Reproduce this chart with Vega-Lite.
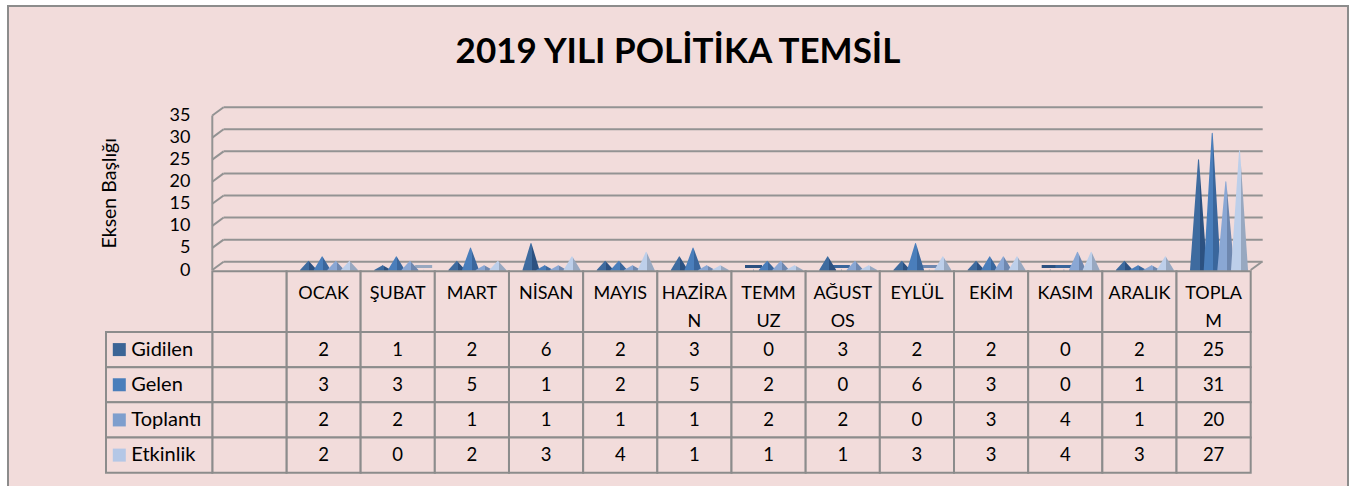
{
  "$schema": "https://vega.github.io/schema/vega-lite/v6.json",
  "width": 1340,
  "height": 484,
  "autosize": "none",
  "padding": {"left": 8, "top": 6, "right": 8, "bottom": -4},
  "background": "#ffffff",
  "view": {"fill": "#F2DCDB", "stroke": "#8C8C8C", "strokeWidth": 2},
  "config": {"font": "Lato"},
  "title": {"text": "2019 YILI POLİTİKA TEMSİL", "fontSize": 35, "fontWeight": "bold", "font": "Lato", "color": "#000000", "anchor": "middle", "baseline": "alphabetic", "offset": -91.5},
  "datasets": {
    "veri": [
      {"ay": "OCAK", "seri": "Gidilen", "deger": 2}, {"ay": "ŞUBAT", "seri": "Gidilen", "deger": 1}, {"ay": "MART", "seri": "Gidilen", "deger": 2}, {"ay": "NİSAN", "seri": "Gidilen", "deger": 6}, {"ay": "MAYIS", "seri": "Gidilen", "deger": 2}, {"ay": "HAZİRAN", "seri": "Gidilen", "deger": 3}, {"ay": "TEMMUZ", "seri": "Gidilen", "deger": 0}, {"ay": "AĞUSTOS", "seri": "Gidilen", "deger": 3}, {"ay": "EYLÜL", "seri": "Gidilen", "deger": 2}, {"ay": "EKİM", "seri": "Gidilen", "deger": 2}, {"ay": "KASIM", "seri": "Gidilen", "deger": 0}, {"ay": "ARALIK", "seri": "Gidilen", "deger": 2}, {"ay": "TOPLAM", "seri": "Gidilen", "deger": 25},
      {"ay": "OCAK", "seri": "Gelen", "deger": 3}, {"ay": "ŞUBAT", "seri": "Gelen", "deger": 3}, {"ay": "MART", "seri": "Gelen", "deger": 5}, {"ay": "NİSAN", "seri": "Gelen", "deger": 1}, {"ay": "MAYIS", "seri": "Gelen", "deger": 2}, {"ay": "HAZİRAN", "seri": "Gelen", "deger": 5}, {"ay": "TEMMUZ", "seri": "Gelen", "deger": 2}, {"ay": "AĞUSTOS", "seri": "Gelen", "deger": 0}, {"ay": "EYLÜL", "seri": "Gelen", "deger": 6}, {"ay": "EKİM", "seri": "Gelen", "deger": 3}, {"ay": "KASIM", "seri": "Gelen", "deger": 0}, {"ay": "ARALIK", "seri": "Gelen", "deger": 1}, {"ay": "TOPLAM", "seri": "Gelen", "deger": 31},
      {"ay": "OCAK", "seri": "Toplantı", "deger": 2}, {"ay": "ŞUBAT", "seri": "Toplantı", "deger": 2}, {"ay": "MART", "seri": "Toplantı", "deger": 1}, {"ay": "NİSAN", "seri": "Toplantı", "deger": 1}, {"ay": "MAYIS", "seri": "Toplantı", "deger": 1}, {"ay": "HAZİRAN", "seri": "Toplantı", "deger": 1}, {"ay": "TEMMUZ", "seri": "Toplantı", "deger": 2}, {"ay": "AĞUSTOS", "seri": "Toplantı", "deger": 2}, {"ay": "EYLÜL", "seri": "Toplantı", "deger": 0}, {"ay": "EKİM", "seri": "Toplantı", "deger": 3}, {"ay": "KASIM", "seri": "Toplantı", "deger": 4}, {"ay": "ARALIK", "seri": "Toplantı", "deger": 1}, {"ay": "TOPLAM", "seri": "Toplantı", "deger": 20},
      {"ay": "OCAK", "seri": "Etkinlik", "deger": 2}, {"ay": "ŞUBAT", "seri": "Etkinlik", "deger": 0}, {"ay": "MART", "seri": "Etkinlik", "deger": 2}, {"ay": "NİSAN", "seri": "Etkinlik", "deger": 3}, {"ay": "MAYIS", "seri": "Etkinlik", "deger": 4}, {"ay": "HAZİRAN", "seri": "Etkinlik", "deger": 1}, {"ay": "TEMMUZ", "seri": "Etkinlik", "deger": 1}, {"ay": "AĞUSTOS", "seri": "Etkinlik", "deger": 1}, {"ay": "EYLÜL", "seri": "Etkinlik", "deger": 3}, {"ay": "EKİM", "seri": "Etkinlik", "deger": 3}, {"ay": "KASIM", "seri": "Etkinlik", "deger": 4}, {"ay": "ARALIK", "seri": "Etkinlik", "deger": 3}, {"ay": "TOPLAM", "seri": "Etkinlik", "deger": 27}
    ],
    "izgara": [{"t": 0}, {"t": 5}, {"t": 10}, {"t": 15}, {"t": 20}, {"t": 25}, {"t": 30}, {"t": 35}]
  },
  "resolve": {"scale": {"y": "independent"}},
  "layer": [
    {
      "data": {"name": "izgara"},
      "mark": {"type": "rule", "color": "#939393", "strokeWidth": 2, "xOffset": 11.3, "x2Offset": 12, "yOffset": -8.3},
      "encoding": {
        "x": {"datum": " ", "type": "nominal", "bandPosition": 0, "scale": {"domain": [" ", "OCAK", "ŞUBAT", "MART", "NİSAN", "MAYIS", "HAZİRAN", "TEMMUZ", "AĞUSTOS", "EYLÜL", "EKİM", "KASIM", "ARALIK", "TOPLAM"], "range": [204.3, 1242.7], "paddingInner": 0, "paddingOuter": 0}, "axis": {"orient": "bottom", "offset": -191.3, "domain": false, "ticks": false, "grid": false, "labelPadding": 0, "labelBaseline": "alphabetic", "labelFont": "Lato", "labelFontSize": 18, "labelColor": "#000000", "labelLineHeight": 28.3, "labelAngle": 0, "labelExpr": "datum.value == 'HAZİRAN' ? ['HAZİRA', 'N'] : datum.value == 'TEMMUZ' ? ['TEMM', 'UZ'] : datum.value == 'AĞUSTOS' ? ['AĞUST', 'OS'] : datum.value == 'TOPLAM' ? ['TOPLA', 'M'] : datum.value", "title": null, "zindex": 3}},
        "x2": {"datum": "TOPLAM", "bandPosition": 1},
        "y": {"field": "t", "type": "quantitative", "scale": {"domain": [0, 35], "range": [264, 109.5], "nice": false}, "axis": {"values": [0, 5, 10, 15, 20, 25, 30, 35], "orient": "left", "offset": -182, "domain": false, "ticks": false, "grid": false, "labelPadding": 0, "labelFontSize": 18, "labelColor": "#000000", "labelFont": "Lato", "labelOverlap": false, "labelFlush": false, "labelBaseline": "middle", "title": "Eksen Başlığı", "titleFont": "Lato", "titleFontSize": 19.5, "titleFontWeight": "normal", "titleColor": "#000000", "titlePadding": 50, "zindex": 3}}
      }
    },
    {
      "data": {"name": "izgara"},
      "mark": {"type": "rule", "color": "#939393", "strokeWidth": 2, "x2Offset": 11.3, "y2Offset": -8.3},
      "encoding": {
        "x": {"datum": " ", "type": "nominal", "bandPosition": 0},
        "x2": {"datum": " ", "bandPosition": 0},
        "y": {"field": "t", "type": "quantitative", "scale": {"domain": [0, 35], "range": [264, 109.5], "nice": false}, "axis": null},
        "y2": {"field": "t"}
      }
    },
    {
      "data": {"values": [{}]},
      "mark": {"type": "rule", "color": "#939393", "strokeWidth": 2},
      "encoding": {
        "x": {"datum": " ", "type": "nominal", "bandPosition": 0},
        "y": {"datum": 0, "type": "quantitative", "scale": {"domain": [0, 35], "range": [264, 109.5], "nice": false}, "axis": null},
        "y2": {"datum": 35}
      }
    },
    {
      "data": {"values": [{}]},
      "mark": {"type": "rule", "color": "#939393", "strokeWidth": 2, "x2Offset": 11.3, "y2Offset": -8.3},
      "encoding": {
        "x": {"datum": "TOPLAM", "type": "nominal", "bandPosition": 1},
        "x2": {"datum": "TOPLAM", "bandPosition": 1},
        "y": {"datum": 0, "type": "quantitative", "scale": {"domain": [0, 35], "range": [264, 109.5], "nice": false}, "axis": null},
        "y2": {"datum": 0}
      }
    },
    {
      "data": {"name": "veri"},
      "transform": [{"filter": "datum.seri == 'Gidilen' && datum.deger == 0"}],
      "mark": {"type": "rule", "color": "#2C5181", "strokeWidth": 3, "xOffset": 13.5, "x2Offset": 30.5, "yOffset": -3.5},
      "encoding": {
        "x": {"field": "ay", "type": "nominal", "bandPosition": 0},
        "x2": {"field": "ay", "bandPosition": 0},
        "y": {"datum": 0, "type": "quantitative", "scale": {"domain": [0, 35], "range": [264, 109.5], "nice": false}, "axis": null}
      }
    },
    {
      "data": {"name": "veri"},
      "transform": [{"filter": "datum.seri == 'Gelen' && datum.deger == 0"}],
      "mark": {"type": "rule", "color": "#3A669C", "strokeWidth": 3, "xOffset": 27.2, "x2Offset": 44.2, "yOffset": -3.5},
      "encoding": {
        "x": {"field": "ay", "type": "nominal", "bandPosition": 0},
        "x2": {"field": "ay", "bandPosition": 0},
        "y": {"datum": 0, "type": "quantitative", "scale": {"domain": [0, 35], "range": [264, 109.5], "nice": false}, "axis": null}
      }
    },
    {
      "data": {"name": "veri"},
      "transform": [{"filter": "datum.seri == 'Toplantı' && datum.deger == 0"}],
      "mark": {"type": "rule", "color": "#6E87AF", "strokeWidth": 3, "xOffset": 40.8, "x2Offset": 57.8, "yOffset": -3.5},
      "encoding": {
        "x": {"field": "ay", "type": "nominal", "bandPosition": 0},
        "x2": {"field": "ay", "bandPosition": 0},
        "y": {"datum": 0, "type": "quantitative", "scale": {"domain": [0, 35], "range": [264, 109.5], "nice": false}, "axis": null}
      }
    },
    {
      "data": {"name": "veri"},
      "transform": [{"filter": "datum.seri == 'Etkinlik' && datum.deger == 0"}],
      "mark": {"type": "rule", "color": "#98A8C0", "strokeWidth": 3, "xOffset": 54.5, "x2Offset": 71.5, "yOffset": -3.5},
      "encoding": {
        "x": {"field": "ay", "type": "nominal", "bandPosition": 0},
        "x2": {"field": "ay", "bandPosition": 0},
        "y": {"datum": 0, "type": "quantitative", "scale": {"domain": [0, 35], "range": [264, 109.5], "nice": false}, "axis": null}
      }
    },
    {
      "data": {"name": "veri"},
      "transform": [
        {"filter": "datum.seri == 'Gidilen'"},
        {"stack": "deger", "groupby": ["ay", "seri"], "as": ["taban", "tepe"]},
        {"fold": ["taban", "tepe"], "as": ["uc", "yukseklik"]}
      ],
      "mark": {"type": "trail", "xOffset": 22, "fill": {"gradient": "linear", "x1": 0, "y1": 0, "x2": 1, "y2": 0, "stops": [{"offset": 0, "color": "#3E6B9F"}, {"offset": 0.56, "color": "#3E6B9F"}, {"offset": 0.56, "color": "#2C5181"}, {"offset": 1, "color": "#2C5181"}]}},
      "encoding": {
        "x": {"field": "ay", "type": "nominal", "bandPosition": 0},
        "y": {"field": "yukseklik", "type": "quantitative", "scale": {"domain": [0, 35], "range": [264, 109.5], "nice": false}, "axis": null},
        "size": {"condition": {"test": "datum.uc == 'taban'", "value": 17}, "value": 0},
        "detail": {"field": "ay"},
        "order": {"field": "uc"}
      }
    },
    {
      "data": {"name": "veri"},
      "transform": [
        {"filter": "datum.seri == 'Gelen'"},
        {"stack": "deger", "groupby": ["ay", "seri"], "as": ["taban", "tepe"]},
        {"fold": ["taban", "tepe"], "as": ["uc", "yukseklik"]}
      ],
      "mark": {"type": "trail", "xOffset": 35.7, "fill": {"gradient": "linear", "x1": 0, "y1": 0, "x2": 1, "y2": 0, "stops": [{"offset": 0, "color": "#4A7EBB"}, {"offset": 0.56, "color": "#4A7EBB"}, {"offset": 0.56, "color": "#3A669C"}, {"offset": 1, "color": "#3A669C"}]}},
      "encoding": {
        "x": {"field": "ay", "type": "nominal", "bandPosition": 0},
        "y": {"field": "yukseklik", "type": "quantitative", "scale": {"domain": [0, 35], "range": [264, 109.5], "nice": false}, "axis": null},
        "size": {"condition": {"test": "datum.uc == 'taban'", "value": 17}, "value": 0},
        "detail": {"field": "ay"},
        "order": {"field": "uc"}
      }
    },
    {
      "data": {"name": "veri"},
      "transform": [
        {"filter": "datum.seri == 'Toplantı'"},
        {"stack": "deger", "groupby": ["ay", "seri"], "as": ["taban", "tepe"]},
        {"fold": ["taban", "tepe"], "as": ["uc", "yukseklik"]}
      ],
      "mark": {"type": "trail", "xOffset": 49.3, "fill": {"gradient": "linear", "x1": 0, "y1": 0, "x2": 1, "y2": 0, "stops": [{"offset": 0, "color": "#8AA7D4"}, {"offset": 0.56, "color": "#8AA7D4"}, {"offset": 0.56, "color": "#6E87AF"}, {"offset": 1, "color": "#6E87AF"}]}},
      "encoding": {
        "x": {"field": "ay", "type": "nominal", "bandPosition": 0},
        "y": {"field": "yukseklik", "type": "quantitative", "scale": {"domain": [0, 35], "range": [264, 109.5], "nice": false}, "axis": null},
        "size": {"condition": {"test": "datum.uc == 'taban'", "value": 17}, "value": 0},
        "detail": {"field": "ay"},
        "order": {"field": "uc"}
      }
    },
    {
      "data": {"name": "veri"},
      "transform": [
        {"filter": "datum.seri == 'Etkinlik'"},
        {"stack": "deger", "groupby": ["ay", "seri"], "as": ["taban", "tepe"]},
        {"fold": ["taban", "tepe"], "as": ["uc", "yukseklik"]}
      ],
      "mark": {"type": "trail", "xOffset": 63, "fill": {"gradient": "linear", "x1": 0, "y1": 0, "x2": 1, "y2": 0, "stops": [{"offset": 0, "color": "#BDCFEA"}, {"offset": 0.56, "color": "#BDCFEA"}, {"offset": 0.56, "color": "#98A8C0"}, {"offset": 1, "color": "#98A8C0"}]}},
      "encoding": {
        "x": {"field": "ay", "type": "nominal", "bandPosition": 0},
        "y": {"field": "yukseklik", "type": "quantitative", "scale": {"domain": [0, 35], "range": [264, 109.5], "nice": false}, "axis": null},
        "size": {"condition": {"test": "datum.uc == 'taban'", "value": 17}, "value": 0},
        "detail": {"field": "ay"},
        "order": {"field": "uc"}
      }
    },
    {
      "data": {"name": "veri"},
      "transform": [{"aggregate": [], "groupby": ["ay"]}],
      "mark": {"type": "rect", "fill": "#F2DCDB", "stroke": "#8C8C8C", "strokeWidth": 2, "yOffset": -60.7},
      "encoding": {
        "x": {"field": "ay", "type": "nominal"},
        "y": {"datum": "Gidilen", "type": "nominal", "bandPosition": 0, "scale": {"domain": ["Gidilen", "Gelen", "Toplantı", "Etkinlik"], "range": [326, 466.7], "paddingInner": 0, "paddingOuter": 0}, "axis": null},
        "y2": {"datum": "Gidilen", "bandPosition": 0}
      }
    },
    {
      "data": {"values": [{}]},
      "mark": {"type": "rect", "fill": "#F2DCDB", "stroke": "#8C8C8C", "strokeWidth": 2, "yOffset": -60.7},
      "encoding": {
        "x": {"datum": " ", "type": "nominal"},
        "y": {"datum": "Gidilen", "type": "nominal", "bandPosition": 0, "scale": {"domain": ["Gidilen", "Gelen", "Toplantı", "Etkinlik"], "range": [326, 466.7], "paddingInner": 0, "paddingOuter": 0}, "axis": null},
        "y2": {"datum": "Gidilen", "bandPosition": 0}
      }
    },
    {
      "data": {"name": "veri"},
      "mark": {"type": "rect", "fill": "#F2DCDB", "stroke": "#8C8C8C", "strokeWidth": 2},
      "encoding": {
        "x": {"field": "ay", "type": "nominal"},
        "y": {"field": "seri", "type": "nominal", "scale": {"domain": ["Gidilen", "Gelen", "Toplantı", "Etkinlik"], "range": [326, 466.7], "paddingInner": 0, "paddingOuter": 0}, "axis": null}
      }
    },
    {
      "data": {"name": "veri"},
      "transform": [{"aggregate": [], "groupby": ["seri"]}],
      "mark": {"type": "rect", "fill": "#F2DCDB", "stroke": "#8C8C8C", "strokeWidth": 2},
      "encoding": {
        "x": {"datum": " ", "type": "nominal"},
        "y": {"field": "seri", "type": "nominal", "scale": {"domain": ["Gidilen", "Gelen", "Toplantı", "Etkinlik"], "range": [326, 466.7], "paddingInner": 0, "paddingOuter": 0}, "axis": null}
      }
    },
    {
      "data": {"name": "veri"},
      "transform": [{"aggregate": [], "groupby": ["seri"]}],
      "mark": {"type": "rect", "fill": "#F2DCDB", "stroke": "#8C8C8C", "strokeWidth": 2, "xOffset": -106.3},
      "encoding": {
        "x": {"datum": " ", "type": "nominal", "bandPosition": 0},
        "x2": {"datum": " ", "bandPosition": 0},
        "y": {"field": "seri", "type": "nominal", "scale": {"domain": ["Gidilen", "Gelen", "Toplantı", "Etkinlik"], "range": [326, 466.7], "paddingInner": 0, "paddingOuter": 0}, "axis": null}
      }
    },
    {
      "data": {"name": "veri"},
      "transform": [{"aggregate": [], "groupby": ["seri"]}],
      "mark": {"type": "point", "shape": "square", "filled": true, "opacity": 1, "size": 169, "xOffset": -93},
      "encoding": {
        "x": {"datum": " ", "type": "nominal", "bandPosition": 0},
        "y": {"field": "seri", "type": "nominal", "scale": {"domain": ["Gidilen", "Gelen", "Toplantı", "Etkinlik"], "range": [326, 466.7], "paddingInner": 0, "paddingOuter": 0}, "axis": null},
        "color": {"field": "seri", "type": "nominal", "scale": {"domain": ["Gidilen", "Gelen", "Toplantı", "Etkinlik"], "range": ["#3B6596", "#4A7EBB", "#7E9ECD", "#B4C7E6"]}, "legend": null}
      }
    },
    {
      "data": {"name": "veri"},
      "transform": [{"aggregate": [], "groupby": ["seri"]}],
      "mark": {"type": "text", "align": "left", "baseline": "middle", "dx": -81, "fontSize": 20, "font": "Lato", "color": "#000000"},
      "encoding": {
        "x": {"datum": " ", "type": "nominal", "bandPosition": 0},
        "y": {"field": "seri", "type": "nominal", "scale": {"domain": ["Gidilen", "Gelen", "Toplantı", "Etkinlik"], "range": [326, 466.7], "paddingInner": 0, "paddingOuter": 0}, "axis": null},
        "text": {"field": "seri"}
      }
    },
    {
      "data": {"name": "veri"},
      "mark": {"type": "text", "align": "center", "baseline": "middle", "fontSize": 18.5, "font": "Lato", "color": "#000000"},
      "encoding": {
        "x": {"field": "ay", "type": "nominal"},
        "y": {"field": "seri", "type": "nominal", "scale": {"domain": ["Gidilen", "Gelen", "Toplantı", "Etkinlik"], "range": [326, 466.7], "paddingInner": 0, "paddingOuter": 0}, "axis": null},
        "text": {"field": "deger", "type": "quantitative"}
      }
    }
  ]
}
